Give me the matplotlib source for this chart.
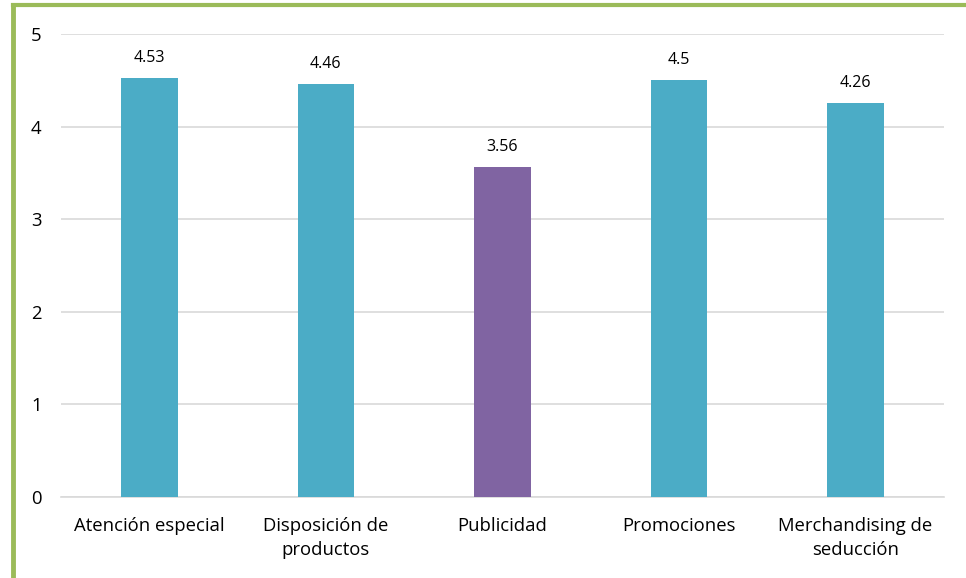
import matplotlib.pyplot as plt
from matplotlib.lines import Line2D

categories = ["Atención especial", "Disposición de\nproductos", "Publicidad",
              "Promociones", "Merchandising de\nseducción"]
scores = [4.53, 4.46, 3.56, 4.5, 4.26]
score_labels = ["4.53", "4.46", "3.56", "4.5", "4.26"]
bar_colors = ["#4BACC6", "#4BACC6", "#8064A2", "#4BACC6", "#4BACC6"]

plt.rcParams['font.family'] = ['Open Sans', 'DejaVu Sans']

fig = plt.figure(figsize=(9.66, 5.78), dpi=100)
ax = fig.add_axes([0.0631, 0.140, 0.914, 0.801])

x = range(len(categories))
ax.bar(x, scores, width=0.32, color=bar_colors, zorder=3)
for i, (s, lab) in enumerate(zip(scores, score_labels)):
    ax.text(i, s + 0.13, lab, ha='center', va='bottom', fontsize=11.5, color='#000000')

ax.set_xlim(-0.5, len(categories) - 0.5)
ax.set_ylim(0, 5)
ax.set_yticks([0, 1, 2, 3, 4, 5])
ax.set_xticks(list(x))
ax.set_xticklabels(categories, fontsize=13.3, linespacing=1.45)
ax.tick_params(axis='y', labelsize=13.3, length=0, pad=14)
ax.tick_params(axis='x', length=0, pad=14)
ax.grid(axis='y', color='#D9D9D9', linewidth=1.2, zorder=0)
for side in ['top', 'right', 'left']:
    ax.spines[side].set_visible(False)
ax.spines['bottom'].set_color('#D9D9D9')
ax.spines['bottom'].set_linewidth(1.2)

# green frame along top and left edges
fig.add_artist(Line2D([13 / 966, 1.0], [1 - 5 / 578, 1 - 5 / 578], color='#9BBB59', linewidth=3))
fig.add_artist(Line2D([13 / 966, 13 / 966], [0, 1 - 5 / 578], color='#9BBB59', linewidth=3.5))

fig.savefig("out.png", dpi=100)
